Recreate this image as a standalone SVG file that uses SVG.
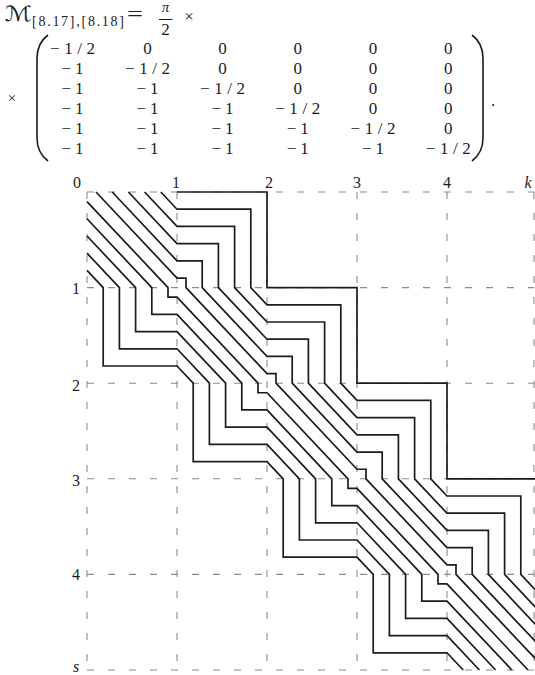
<svg xmlns="http://www.w3.org/2000/svg" width="535" height="675" viewBox="0 0 535 675">
<style>
.g{stroke:#8c8c8c;stroke-width:1.1;stroke-dasharray:7 14;fill:none}
.l{stroke:#1c1c1c;stroke-width:1.7;fill:none;stroke-linejoin:miter}
.t{font-family:"Liberation Serif","DejaVu Serif",serif;fill:#1c1c1c}
.m{font-size:17px;text-anchor:middle}
.lb{font-size:16px;text-anchor:middle}
.p{stroke:#1c1c1c;stroke-width:1.6;fill:none}
</style>
<rect width="535" height="675" fill="#ffffff"/>
<g id="formula" class="t">
<text x="5" y="21" font-family="DejaVu Serif, DejaVu Sans, serif" font-size="21" textLength="27" lengthAdjust="spacingAndGlyphs">ℳ</text>
<text x="32" y="26" font-size="14" textLength="92" lengthAdjust="spacing">[8.17],[8.18]</text>
<text x="127" y="21" font-size="20" textLength="16" lengthAdjust="spacingAndGlyphs">=</text>
<text x="165.5" y="12" font-size="15" text-anchor="middle" font-style="italic">π</text>
<line x1="159" y1="19.5" x2="172.5" y2="19.5" stroke="#1c1c1c" stroke-width="1"/>
<text x="165.5" y="35" font-size="17" text-anchor="middle">2</text>
<text x="189" y="22" font-size="17" text-anchor="middle">×</text>
<text x="12" y="103" font-size="15" text-anchor="middle">×</text>
<path class="p" d="M48,35 C40,41 37,50 37,58 L37,138 C37,146 40,155 48,161"/>
<path class="p" d="M472,35 C480,41 483,50 483,58 L483,138 C483,146 480,155 472,161"/>
<text x="493" y="106" font-size="17" text-anchor="middle">.</text>
<g class="m">
<text x="72.5" y="53.5" textLength="45" lengthAdjust="spacing">−1/2</text>
<text x="147.6" y="53.5">0</text><text x="222.6" y="53.5">0</text><text x="297.7" y="53.5">0</text><text x="373" y="53.5">0</text><text x="448.3" y="53.5">0</text>
<text x="72.5" y="73.5" textLength="22" lengthAdjust="spacing">−1</text>
<text x="147.6" y="73.5" textLength="45" lengthAdjust="spacing">−1/2</text>
<text x="222.6" y="73.5">0</text><text x="297.7" y="73.5">0</text><text x="373" y="73.5">0</text><text x="448.3" y="73.5">0</text>
<text x="72.5" y="93.5" textLength="22" lengthAdjust="spacing">−1</text>
<text x="147.6" y="93.5" textLength="22" lengthAdjust="spacing">−1</text>
<text x="222.6" y="93.5" textLength="45" lengthAdjust="spacing">−1/2</text>
<text x="297.7" y="93.5">0</text><text x="373" y="93.5">0</text><text x="448.3" y="93.5">0</text>
<text x="72.5" y="113.5" textLength="22" lengthAdjust="spacing">−1</text>
<text x="147.6" y="113.5" textLength="22" lengthAdjust="spacing">−1</text>
<text x="222.6" y="113.5" textLength="22" lengthAdjust="spacing">−1</text>
<text x="297.7" y="113.5" textLength="45" lengthAdjust="spacing">−1/2</text>
<text x="373" y="113.5">0</text><text x="448.3" y="113.5">0</text>
<text x="72.5" y="133.5" textLength="22" lengthAdjust="spacing">−1</text>
<text x="147.6" y="133.5" textLength="22" lengthAdjust="spacing">−1</text>
<text x="222.6" y="133.5" textLength="22" lengthAdjust="spacing">−1</text>
<text x="297.7" y="133.5" textLength="22" lengthAdjust="spacing">−1</text>
<text x="373" y="133.5" textLength="45" lengthAdjust="spacing">−1/2</text>
<text x="448.3" y="133.5">0</text>
<text x="72.5" y="153.5" textLength="22" lengthAdjust="spacing">−1</text>
<text x="147.6" y="153.5" textLength="22" lengthAdjust="spacing">−1</text>
<text x="222.6" y="153.5" textLength="22" lengthAdjust="spacing">−1</text>
<text x="297.7" y="153.5" textLength="22" lengthAdjust="spacing">−1</text>
<text x="373" y="153.5" textLength="22" lengthAdjust="spacing">−1</text>
<text x="448.3" y="153.5" textLength="45" lengthAdjust="spacing">−1/2</text>
</g>
</g>
<g id="grid" class="g">
<path d="M87,192H534M87,287.6H534M87,383.2H534M87,478.8H534M87,574.4H534M87,670H534"/>
<path d="M87,192V670M177,192V670M267,192V670M357,192V670M447,192V670M534,192V670"/>
</g>
<g id="lines" class="l">
<path d="M177,192 L267,192 L267,287.6 L357,287.6 L357,383.2 L447,383.2 L447,478.8 L537,478.8 L537,574.4"/>
<path d="M160.8,192 L177,209.21 L250.8,209.21 L250.8,287.6 L267,304.81 L340.8,304.81 L340.8,383.2 L357,400.41 L430.8,400.41 L430.8,478.8 L447,496.01 L520.8,496.01 L520.8,574.4 L537,591.61"/>
<path d="M144.6,192 L177,226.42 L234.6,226.42 L234.6,287.6 L267,322.02 L324.6,322.02 L324.6,383.2 L357,417.62 L414.6,417.62 L414.6,478.8 L447,513.22 L504.6,513.22 L504.6,574.4 L537,608.82"/>
<path d="M128.4,192 L177,243.62 L218.4,243.62 L218.4,287.6 L267,339.22 L308.4,339.22 L308.4,383.2 L357,434.82 L398.4,434.82 L398.4,478.8 L447,530.42 L488.4,530.42 L488.4,574.4 L537,626.02"/>
<path d="M112.2,192 L177,260.83 L202.2,260.83 L202.2,287.6 L267,356.43 L292.2,356.43 L292.2,383.2 L357,452.03 L382.2,452.03 L382.2,478.8 L447,547.63 L472.2,547.63 L472.2,574.4 L537,643.23"/>
<path d="M96,192 L177,278.04 L186,278.04 L186,287.6 L267,373.64 L276,373.64 L276,383.2 L357,469.24 L366,469.24 L366,478.8 L447,564.84 L456,564.84 L456,574.4 L537,660.44"/>
<path d="M87,201.56 L168,287.6 L168,297.16 L177,297.16 L258,383.2 L258,392.76 L267,392.76 L348,478.8 L348,488.36 L357,488.36 L438,574.4 L438,583.96 L447,583.96 L528,670"/>
<path d="M87,218.77 L151.8,287.6 L151.8,314.37 L177,314.37 L241.8,383.2 L241.8,409.97 L267,409.97 L331.8,478.8 L331.8,505.57 L357,505.57 L421.8,574.4 L421.8,601.17 L447,601.17 L511.8,670"/>
<path d="M87,235.98 L135.6,287.6 L135.6,331.58 L177,331.58 L225.6,383.2 L225.6,427.18 L267,427.18 L315.6,478.8 L315.6,522.78 L357,522.78 L405.6,574.4 L405.6,618.38 L447,618.38 L495.6,670"/>
<path d="M87,253.18 L119.4,287.6 L119.4,348.78 L177,348.78 L209.4,383.2 L209.4,444.38 L267,444.38 L299.4,478.8 L299.4,539.98 L357,539.98 L389.4,574.4 L389.4,635.58 L447,635.58 L479.4,670"/>
<path d="M87,270.39 L103.2,287.6 L103.2,365.99 L177,365.99 L193.2,383.2 L193.2,461.59 L267,461.59 L283.2,478.8 L283.2,557.19 L357,557.19 L373.2,574.4 L373.2,652.79 L447,652.79 L463.2,670"/>
</g>
<g id="labels" class="t lb">
<text x="77" y="188">0</text>
<text x="176" y="188">1</text>
<text x="269" y="188">2</text>
<text x="357" y="188">3</text>
<text x="447" y="188">4</text>
<text x="528" y="188" font-style="italic">k</text>
<text x="76" y="294">1</text>
<text x="76" y="391">2</text>
<text x="76" y="486">3</text>
<text x="76" y="580">4</text>
<text x="76" y="672" font-style="italic">s</text>
</g>
</svg>
